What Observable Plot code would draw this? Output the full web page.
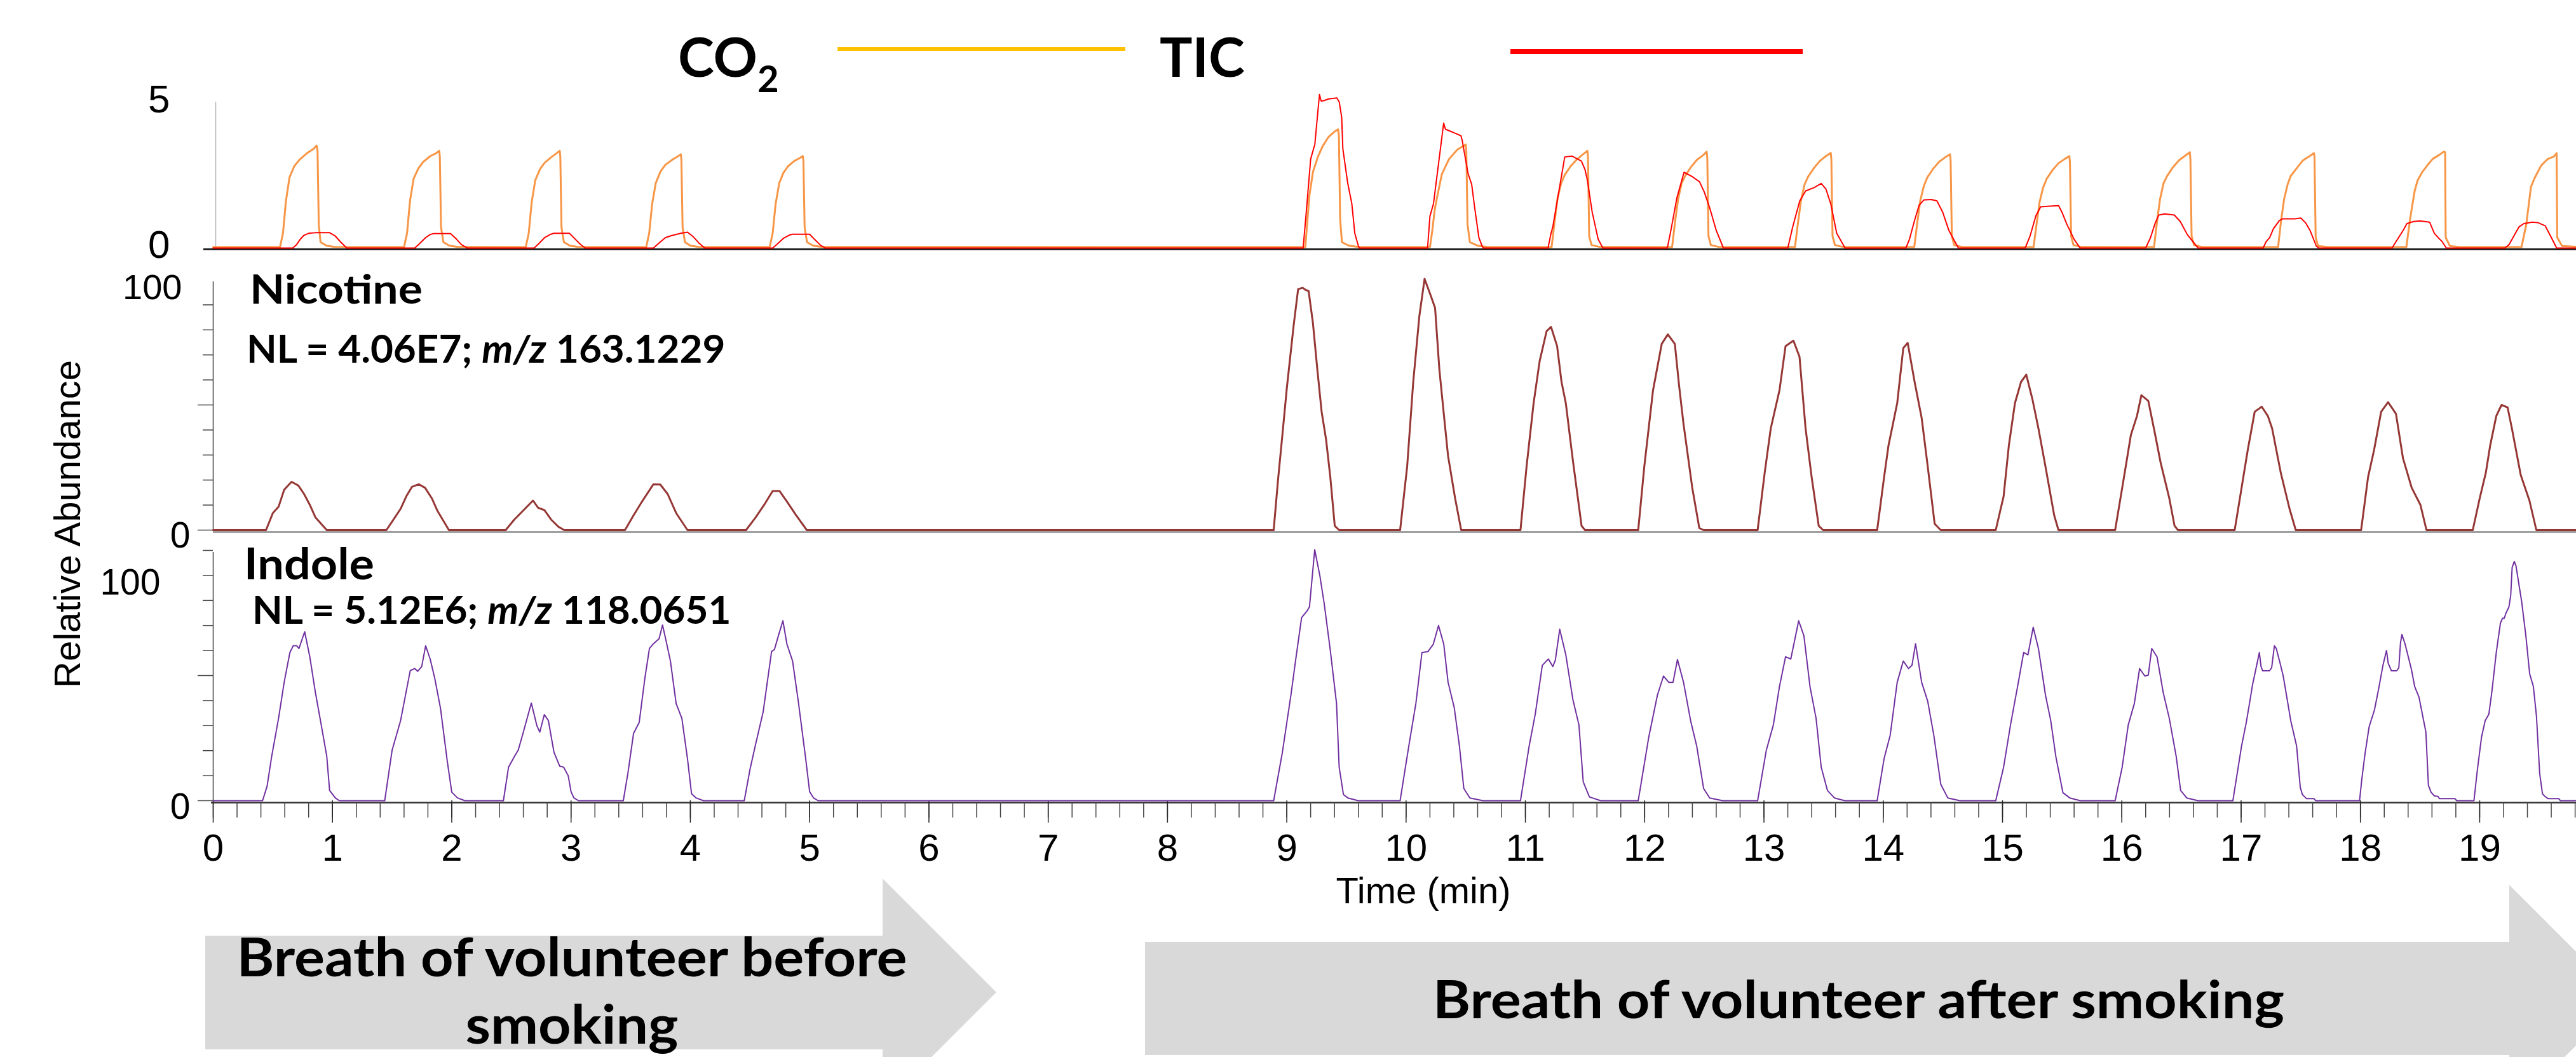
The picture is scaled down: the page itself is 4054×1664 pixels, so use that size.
<!DOCTYPE html>
<html>
<head>
<meta charset="utf-8">
<script src="https://cdn.jsdelivr.net/npm/d3@7"></script>
<script src="https://cdn.jsdelivr.net/npm/@observablehq/plot@0.6"></script>
<style>
html, body { margin: 0; padding: 0; background: #fff; }
#page { position: relative; width: 4054px; height: 1664px; overflow: hidden; background: #fff; }
#page > svg { position: absolute; left: 0; top: 0; }
</style>
</head>
<body>
<div id="page"></div>
<script>
const W = 4054, H = 1664;
const timeDomain = [0, 19.81];

// ---- CO2 trace (panel 1, 0-5 scale) ----
const co2Trace = [
  [0,0.03],
  [0.56,0.03],[0.585,0.5],[0.61,1.6],[0.64,2.4],[0.68,2.78],[0.72,2.98],[0.78,3.2],[0.84,3.36],[0.867,3.48],[0.875,3.3],[0.885,0.8],[0.90,0.2],[0.95,0.08],[1.02,0.04],
  [1.60,0.03],[1.625,0.5],[1.65,1.6],[1.68,2.35],[1.72,2.7],[1.76,2.92],[1.82,3.12],[1.87,3.22],[1.895,3.30],[1.90,3.1],[1.91,0.7],[1.93,0.2],[1.98,0.08],[2.05,0.04],
  [2.62,0.03],[2.645,0.5],[2.67,1.55],[2.70,2.3],[2.74,2.68],[2.78,2.9],[2.84,3.1],[2.88,3.22],[2.905,3.30],[2.91,3.1],[2.92,0.7],[2.94,0.2],[2.99,0.08],[3.06,0.04],
  [3.63,0.03],[3.655,0.5],[3.68,1.5],[3.71,2.2],[3.75,2.6],[3.79,2.82],[3.85,3.0],[3.89,3.1],[3.92,3.18],[3.925,3.0],[3.935,0.7],[3.955,0.2],[4.0,0.08],[4.07,0.04],
  [4.665,0.03],[4.69,0.5],[4.715,1.5],[4.745,2.2],[4.78,2.55],[4.82,2.78],[4.87,2.95],[4.915,3.05],[4.943,3.12],[4.948,2.95],[4.958,0.7],[4.978,0.2],[5.03,0.08],[5.1,0.04],
  [9.155,0.03],[9.17,0.8],[9.19,1.8],[9.22,2.59],[9.26,3.09],[9.30,3.45],[9.35,3.77],[9.40,3.95],[9.43,4.03],[9.437,3.8],[9.447,1.0],[9.462,0.2],[9.52,0.08],[9.6,0.04],
  [10.20,0.03],[10.22,0.6],[10.24,1.3],[10.256,1.65],[10.30,2.51],[10.36,3.02],[10.43,3.34],[10.50,3.51],[10.505,3.3],[10.515,0.8],[10.535,0.2],[10.6,0.08],[10.68,0.04],
  [11.22,0.03],[11.245,0.9],[11.27,1.7],[11.30,2.2],[11.33,2.48],[11.38,2.78],[11.43,3.0],[11.48,3.17],[11.52,3.30],[11.525,3.1],[11.535,0.4],[11.555,0.1],[11.62,0.04],
  [12.23,0.03],[12.255,0.9],[12.28,1.65],[12.31,2.2],[12.34,2.45],[12.39,2.76],[12.44,3.0],[12.49,3.15],[12.52,3.27],[12.525,3.05],[12.535,0.4],[12.555,0.1],[12.62,0.04],
  [13.26,0.03],[13.285,0.85],[13.31,1.6],[13.34,2.15],[13.37,2.42],[13.42,2.72],[13.47,2.96],[13.52,3.12],[13.56,3.23],[13.565,3.0],[13.575,0.4],[13.595,0.1],[13.66,0.04],
  [14.26,0.03],[14.285,0.85],[14.31,1.6],[14.34,2.1],[14.37,2.4],[14.42,2.7],[14.47,2.93],[14.52,3.08],[14.56,3.18],[14.565,2.95],[14.575,0.4],[14.595,0.1],[14.66,0.04],
  [15.26,0.03],[15.285,0.8],[15.31,1.55],[15.34,2.05],[15.37,2.35],[15.42,2.65],[15.47,2.88],[15.52,3.02],[15.56,3.12],[15.565,2.9],[15.575,0.4],[15.595,0.1],[15.66,0.04],
  [16.27,0.03],[16.295,0.9],[16.32,1.65],[16.35,2.2],[16.38,2.45],[16.43,2.75],[16.48,2.98],[16.53,3.13],[16.57,3.25],[16.575,3.0],[16.585,0.4],[16.605,0.1],[16.67,0.04],
  [17.31,0.03],[17.335,0.93],[17.36,1.65],[17.39,2.16],[17.415,2.44],[17.47,2.73],[17.52,2.98],[17.575,3.12],[17.61,3.22],[17.615,3.1],[17.625,0.36],[17.645,0.07],[17.72,0.04],
  [18.385,0.03],[18.42,1.08],[18.455,1.94],[18.48,2.30],[18.52,2.59],[18.56,2.80],[18.605,3.02],[18.66,3.16],[18.70,3.27],[18.71,3.25],[18.715,0.36],[18.75,0.07],[18.82,0.04],
  [19.35,0.03],[19.39,0.79],[19.43,2.08],[19.46,2.37],[19.515,2.80],[19.57,3.02],[19.62,3.10],[19.645,3.22],[19.65,0.36],[19.69,0.07],[19.81,0.04]
];

// ---- TIC trace (panel 1) ----
const ticTrace = [
  [0,0],
  [0.667,0],[0.70,0.12],[0.73,0.3],[0.76,0.43],[0.80,0.5],[0.857,0.52],[0.976,0.52],[1.02,0.42],[1.07,0.2],[1.12,0],
  [1.69,0],[1.73,0.15],[1.78,0.35],[1.82,0.46],[1.848,0.49],[1.99,0.49],[2.04,0.3],[2.08,0.12],[2.13,0],
  [2.69,0],[2.73,0.15],[2.78,0.36],[2.83,0.47],[2.857,0.50],[2.986,0.50],[3.03,0.32],[3.08,0.12],[3.12,0],
  [3.69,0],[3.74,0.18],[3.79,0.35],[3.84,0.42],[3.92,0.5],[3.976,0.54],[4.02,0.4],[4.07,0.18],[4.12,0],
  [4.69,0],[4.73,0.14],[4.78,0.33],[4.83,0.44],[4.857,0.47],[5.0,0.47],[5.04,0.3],[5.09,0.1],[5.13,0],
  [9.137,0],[9.165,1.3],[9.20,3.02],[9.235,3.52],[9.274,5.21],[9.288,4.99],[9.31,5.0],[9.35,5.06],[9.42,5.09],[9.44,4.95],[9.46,4.44],[9.47,3.37],[9.51,2.22],[9.545,1.51],[9.57,0.5],[9.60,0.07],[9.61,0],
  [10.18,0],[10.20,1.08],[10.23,1.51],[10.315,4.24],[10.33,4.03],[10.38,3.95],[10.46,3.81],[10.47,3.66],[10.52,2.52],[10.55,2.16],[10.575,1.37],[10.61,0.36],[10.64,0.04],[10.65,0],
  [11.19,0],[11.215,0.5],[11.23,0.72],[11.33,3.09],[11.39,3.12],[11.47,2.95],[11.50,2.66],[11.52,2.3],[11.56,1.22],[11.61,0.3],[11.65,0],
  [12.19,0],[12.22,0.6],[12.27,1.7],[12.33,2.57],[12.40,2.42],[12.46,2.25],[12.50,1.9],[12.55,1.3],[12.60,0.6],[12.66,0],
  [13.20,0],[13.24,0.7],[13.30,1.6],[13.35,1.94],[13.42,2.05],[13.48,2.19],[13.52,2.0],[13.56,1.5],[13.61,0.5],[13.68,0],
  [14.19,0],[14.22,0.3],[14.26,0.9],[14.30,1.45],[14.34,1.63],[14.40,1.65],[14.45,1.6],[14.50,1.2],[14.55,0.6],[14.63,0],
  [15.19,0],[15.23,0.4],[15.28,1.1],[15.32,1.40],[15.40,1.42],[15.47,1.44],[15.50,1.2],[15.54,0.8],[15.60,0.3],[15.65,0],
  [16.20,0],[16.24,0.35],[16.28,0.85],[16.31,1.12],[16.36,1.16],[16.44,1.12],[16.49,0.9],[16.55,0.45],[16.64,0],
  [17.185,0],[17.21,0.22],[17.24,0.36],[17.27,0.65],[17.32,0.93],[17.345,0.99],[17.45,0.99],[17.50,1.02],[17.54,0.86],[17.58,0.58],[17.63,0.07],[17.65,0],
  [18.265,0],[18.31,0.29],[18.36,0.61],[18.39,0.83],[18.445,0.90],[18.50,0.92],[18.58,0.88],[18.62,0.50],[18.66,0.32],[18.685,0.22],[18.72,0],
  [19.21,0],[19.245,0.11],[19.28,0.36],[19.33,0.72],[19.37,0.83],[19.44,0.88],[19.49,0.86],[19.55,0.75],[19.60,0.36],[19.645,0],[19.81,0]
];

// ---- Nicotine (panel 2, relative abundance) ----
const nicotineTrace = [
  [0,0],
  [0.443,0],[0.50,6.8],[0.548,9.3],[0.595,16.1],[0.657,19.3],[0.714,17.8],[0.762,14.4],[0.81,10.1],[0.857,5.1],[0.952,0],
  [1.452,0],[1.524,5.1],[1.571,8.5],[1.619,13.5],[1.667,17.3],[1.724,18.3],[1.776,16.9],[1.833,12.7],[1.881,7.6],[1.976,0],
  [2.452,0],[2.524,4.2],[2.595,7.6],[2.681,11.8],[2.724,8.9],[2.776,8.0],[2.833,4.2],[2.895,1.3],[2.943,0],
  [3.452,0],[3.524,5.9],[3.595,11.4],[3.690,18.3],[3.748,18.2],[3.810,14.4],[3.881,6.8],[3.976,0],
  [4.467,0],[4.548,5.1],[4.619,10.1],[4.690,15.6],[4.748,15.6],[4.810,11.4],[4.881,6.3],[4.976,0],
  [8.890,0],[8.927,20.3],[8.963,38.0],[9.0,56.6],[9.058,82.0],[9.095,96.3],[9.132,96.8],[9.161,95.9],[9.183,95.5],[9.219,82.8],[9.256,64.2],[9.292,47.3],[9.329,36.3],[9.365,21.1],[9.402,1.7],[9.439,0],
  [9.950,0],[10.009,25.4],[10.060,59.2],[10.111,85.4],[10.155,100.4],[10.206,93.8],[10.243,88.8],[10.279,64.2],[10.316,46.5],[10.352,29.6],[10.411,12.7],[10.462,0],
  [10.959,0],[11.010,25.4],[11.069,50.7],[11.120,67.6],[11.178,79.5],[11.215,81.2],[11.266,73.5],[11.303,59.2],[11.339,50.7],[11.398,27.9],[11.471,1.7],[11.500,0],
  [11.946,0],[11.997,25.4],[12.070,55.8],[12.143,74.4],[12.194,78.2],[12.253,74.4],[12.289,57.5],[12.326,42.3],[12.399,16.9],[12.458,0.8],[12.494,0],
  [12.947,0],[13.006,22.8],[13.057,40.6],[13.130,55.8],[13.181,73.5],[13.247,75.7],[13.298,69.3],[13.349,40.6],[13.400,21.1],[13.459,1.7],[13.496,0],
  [13.949,0],[14.007,21.1],[14.044,33.8],[14.117,50.7],[14.168,72.7],[14.205,74.8],[14.263,59.2],[14.322,44.8],[14.373,25.4],[14.431,2.5],[14.482,0],
  [14.943,0],[15.009,13.5],[15.053,33.8],[15.104,50.7],[15.155,59.2],[15.199,62.1],[15.250,52.4],[15.301,40.6],[15.360,25.4],[15.433,5.9],[15.469,0],
  [15.944,0],[16.018,21.1],[16.076,38.0],[16.127,45.6],[16.164,53.9],[16.222,51.6],[16.273,39.7],[16.325,27.0],[16.398,12.7],[16.442,1.7],[16.471,0],
  [16.946,0],[17.004,16.9],[17.056,32.1],[17.114,47.3],[17.173,49.3],[17.224,45.6],[17.260,40.6],[17.333,22.8],[17.406,8.5],[17.458,0],
  [18.006,0],[18.064,21.1],[18.115,32.1],[18.174,47.3],[18.232,51.1],[18.298,46.5],[18.357,28.7],[18.430,16.9],[18.503,10.1],[18.554,0],
  [18.942,0],[19.0,12.7],[19.051,22.8],[19.088,33.8],[19.139,45.6],[19.183,50.0],[19.234,49.0],[19.270,40.6],[19.344,22.0],[19.417,11.8],[19.475,0],
  [19.81,0]
];

// ---- Indole (panel 3, relative abundance) ----
const indoleTrace = [
  [0,0],
  [0.414,0],[0.452,5.8],[0.490,17.6],[0.548,32.9],[0.595,47.3],[0.643,59.2],[0.671,61.9],[0.700,61.9],[0.719,60.8],[0.767,67.5],[0.810,57.5],[0.857,43.2],[0.905,30.5],[0.952,17.8],[0.976,4.1],[1.024,1.1],[1.057,0],
  [1.438,0],[1.500,20.2],[1.571,32.0],[1.652,52.0],[1.690,52.8],[1.714,51.7],[1.748,53.6],[1.781,61.9],[1.819,56.6],[1.857,49.0],[1.905,37.1],[1.962,15.9],[2.0,3.4],[2.048,1.1],[2.110,0],
  [2.433,0],[2.476,13.4],[2.524,17.6],[2.557,20.2],[2.595,26.5],[2.667,39.0],[2.714,29.9],[2.738,27.4],[2.776,34.4],[2.810,32.0],[2.857,19.3],[2.905,13.8],[2.938,13.4],[2.976,10.0],[3.0,3.6],[3.024,1.1],[3.062,0],
  [3.438,0],[3.476,10.8],[3.524,26.9],[3.571,31.2],[3.619,49.0],[3.657,60.8],[3.690,62.7],[3.738,64.7],[3.767,70.2],[3.795,64.2],[3.833,55.8],[3.881,38.8],[3.929,32.9],[3.976,16.8],[4.010,2.8],[4.048,1.1],[4.110,0],
  [4.452,0],[4.500,12.5],[4.548,22.7],[4.610,35.4],[4.681,59.6],[4.705,60.4],[4.738,65.9],[4.776,71.9],[4.810,62.5],[4.857,55.8],[4.905,39.7],[4.967,16.8],[5.0,3.6],[5.033,1.1],[5.071,0],
  [8.890,0],[8.963,19.3],[9.037,43.0],[9.073,55.8],[9.124,73.1],[9.168,75.7],[9.190,77.4],[9.234,100.3],[9.278,89.7],[9.314,78.6],[9.365,60.0],[9.417,38.8],[9.439,13.4],[9.475,2.4],[9.512,1.1],[9.599,0],
  [9.950,0],[10.023,21.9],[10.082,38.8],[10.133,59.2],[10.184,59.6],[10.228,62.5],[10.272,70.0],[10.316,62.5],[10.352,47.3],[10.404,37.1],[10.447,21.9],[10.484,4.9],[10.535,1.1],[10.645,0],
  [10.959,0],[11.032,21.9],[11.083,34.6],[11.142,54.1],[11.193,56.6],[11.230,53.6],[11.251,56.1],[11.288,68.5],[11.339,58.3],[11.398,40.5],[11.449,30.3],[11.485,7.5],[11.537,1.5],[11.632,0],
  [11.946,0],[12.034,25.3],[12.107,42.2],[12.158,49.8],[12.202,47.3],[12.238,47.3],[12.275,56.4],[12.326,47.3],[12.385,32.0],[12.436,21.9],[12.494,4.9],[12.545,1.1],[12.655,0],
  [12.947,0],[13.020,20.2],[13.079,30.3],[13.130,45.6],[13.181,57.5],[13.225,56.6],[13.291,71.9],[13.335,65.9],[13.386,45.6],[13.437,32.9],[13.480,13.4],[13.532,4.1],[13.591,1.1],[13.678,0],
  [13.949,0],[14.007,16.8],[14.058,26.1],[14.117,47.3],[14.168,55.8],[14.212,52.8],[14.241,54.1],[14.271,62.7],[14.322,47.3],[14.373,39.7],[14.424,26.1],[14.482,6.6],[14.541,1.1],[14.643,0],
  [14.943,0],[15.009,13.4],[15.067,30.3],[15.126,45.6],[15.177,59.2],[15.213,58.3],[15.257,69.3],[15.301,60.8],[15.360,42.2],[15.404,32.0],[15.447,17.6],[15.506,3.2],[15.564,1.1],[15.652,0],
  [15.944,0],[16.003,13.4],[16.054,30.3],[16.105,38.8],[16.149,52.8],[16.193,49.8],[16.222,50.2],[16.251,60.8],[16.295,57.5],[16.347,43.2],[16.398,32.9],[16.456,17.6],[16.493,4.1],[16.544,1.1],[16.639,0],
  [16.931,0],[17.004,21.9],[17.043,31.2],[17.070,38.8],[17.096,46.4],[17.123,52.4],[17.153,59.2],[17.167,53.6],[17.181,51.9],[17.238,51.9],[17.256,53.1],[17.279,61.9],[17.295,60.8],[17.327,54.9],[17.353,49.8],[17.389,39.7],[17.416,32.0],[17.465,21.9],[17.496,5.3],[17.514,2.4],[17.549,0.8],[17.611,0.8],[17.626,0],
  [17.993,0],[18.011,8.3],[18.038,18.5],[18.073,29.5],[18.118,36.3],[18.153,44.7],[18.189,54.1],[18.219,60.0],[18.233,54.9],[18.260,51.9],[18.304,51.9],[18.322,53.1],[18.336,63.0],[18.348,66.4],[18.375,62.5],[18.428,52.4],[18.455,45.6],[18.491,41.4],[18.549,27.4],[18.570,6.2],[18.592,3.4],[18.620,1.9],[18.650,1.7],[18.663,0.8],[18.793,0.8],[18.807,0],
  [18.952,0],[18.979,11.7],[19.015,25.3],[19.046,32.0],[19.077,34.6],[19.103,43.9],[19.139,59.2],[19.174,71.0],[19.192,72.9],[19.206,72.9],[19.219,74.8],[19.245,77.4],[19.260,82.0],[19.272,93.1],[19.290,95.6],[19.304,93.9],[19.352,79.5],[19.387,65.9],[19.419,50.7],[19.450,45.6],[19.476,33.7],[19.503,10.8],[19.526,2.8],[19.547,1.7],[19.574,0.8],[19.663,0.8],[19.677,0],
  [19.81,0]
];

// ---- axis ticks and labels ----
const timeTicks = d3.range(0, 20);               // 0 … 19 min
const timeMinorTicks = d3.range(0, 100).map(i => i / 5);
const co2Ticks = [0, 5];
const abundanceMinor = [10, 20, 30, 40, 60, 70, 80, 90];
const abundanceMajor = [0, 50];

const legendItems = [
  {name: "CO", sub: "2", color: "#FFC000"},
  {name: "TIC", sub: "", color: "#FF0000"}
];
const panelLabels = [
  {compound: "Nicotine", nl: "4.06E7", mz: "163.1229"},
  {compound: "Indole", nl: "5.12E6", mz: "118.0651"}
];
const phaseLabels = ["Breath of volunteer before", "smoking", "Breath of volunteer after smoking"];

const rows = a => a.map(([t, v]) => ({t, v}));
const FONT_AXIS = "'Liberation Sans', Arial, Helvetica, sans-serif";
const FONT_BOLD = "Lato, 'Open Sans', sans-serif";

const page = d3.select("#page");

// ---------- decoration layer (arrows, legend, annotations) ----------
const deco = page.append("svg").attr("width", W).attr("height", H)
  .style("font-family", FONT_BOLD).style("white-space", "pre");

deco.append("polygon").attr("fill", "#D9D9D9")
  .attr("points", "323,1473 1389,1473 1389,1383 1568,1562 1389,1741 1389,1652 323,1652");
deco.append("polygon").attr("fill", "#D9D9D9")
  .attr("points", "1802,1483 3949,1483 3949,1393 4128,1572 3949,1751 3949,1661 1802,1661");

function boldText(x, y, str, size, len, anchor = "start") {
  const t = deco.append("text").attr("x", x).attr("y", y)
    .attr("font-size", size).attr("font-weight", 700).attr("text-anchor", anchor)
    .attr("fill", "#000").text(str);
  if (len) t.attr("textLength", len).attr("lengthAdjust", "spacingAndGlyphs");
  return t;
}
boldText(900, 1537, phaseLabels[0], 84, 1055, "middle");
boldText(900, 1643, phaseLabels[1], 84, 335, "middle");
boldText(2925, 1603, phaseLabels[2], 82, 1340, "middle");

// legend
const co2 = deco.append("text").attr("x", 1067).attr("y", 121)
  .attr("font-size", 86).attr("font-weight", 700);
co2.append("tspan").text(legendItems[0].name);
co2.append("tspan").attr("font-size", 58).attr("dy", 24).text(legendItems[0].sub);
deco.append("rect").attr("x", 1318).attr("y", 74).attr("width", 453).attr("height", 6).attr("fill", legendItems[0].color);
boldText(1825, 121, legendItems[1].name, 86);
deco.append("rect").attr("x", 2377).attr("y", 77).attr("width", 460).attr("height", 8).attr("fill", legendItems[1].color);

// panel annotations
function nlText(x, y, lab) {
  const t = deco.append("text").attr("x", x).attr("y", y)
    .attr("font-size", 62).attr("font-weight", 700);
  t.append("tspan").text(`NL = ${lab.nl}; `);
  t.append("tspan").attr("font-style", "italic").text("m/z");
  t.append("tspan").text(` ${lab.mz}`);
}
boldText(393, 478, panelLabels[0].compound, 64, 272);
nlText(388, 571, panelLabels[0]);
boldText(384, 912, panelLabels[1].compound, 68, 205);
nlText(397, 982, panelLabels[1]);

// axis titles
deco.append("text").attr("transform", "translate(126,825) rotate(-90)")
  .attr("text-anchor", "middle").attr("font-family", FONT_AXIS).attr("font-size", 58)
  .text("Relative Abundance");
deco.append("text").attr("x", 2240).attr("y", 1422)
  .attr("text-anchor", "middle").attr("font-family", FONT_AXIS).attr("font-size", 58)
  .text("Time (min)");

// ---------- chart panels ----------
function panel(top, bottom, yDomain, marks, xAxis = null) {
  const opts = {
    width: W, height: H,
    marginLeft: 335, marginRight: 0, marginTop: top, marginBottom: H - bottom,
    x: {domain: timeDomain, label: null},
    y: {domain: yDomain, label: null},
    style: {background: "transparent", fontFamily: FONT_AXIS, overflow: "visible"},
    marks
  };
  if (xAxis === null) opts.x.axis = null;
  return Plot.plot(opts);
}

const p1 = panel(158, 390, [0, 5], [
  Plot.ruleX([0], {y1: 0, y2: 5, stroke: "#b5b5b5", strokeWidth: 1.5, dx: 4, insetBottom: -2}),
  Plot.ruleY([0], {stroke: "#222", strokeWidth: 3, dy: 2, insetLeft: -15}),
  Plot.line(rows(co2Trace), {x: "t", y: "v", stroke: "#F79646", strokeWidth: 3}),
  Plot.line(rows(ticTrace), {x: "t", y: "v", stroke: "#FF0000", strokeWidth: 2}),
  Plot.axisY([co2Ticks[1]], {tickSize: 0, tickPadding: 68, fontSize: 62, dy: -1, label: null}),
  Plot.axisY([co2Ticks[0]], {tickSize: 0, tickPadding: 68, fontSize: 62, dy: -4, label: null})
]);

const p2 = panel(440, 834, [0, 100], [
  Plot.ruleX([0], {y1: 0, y2: 100, stroke: "#444", strokeWidth: 1.5, insetBottom: -3}),
  Plot.ruleY([0], {stroke: "#888", strokeWidth: 2.5, dy: 3}),
  Plot.axisY(abundanceMinor, {tickSize: 16, fill: "none", stroke: "#444", strokeWidth: 1.5, label: null}),
  Plot.axisY(abundanceMajor, {tickSize: 24, fill: "none", stroke: "#444", strokeWidth: 1.5, label: null}),
  Plot.axisY([100], {tickSize: 0, tickPadding: 49, fontSize: 56, dy: 13, label: null}),
  Plot.axisY([0], {tickSize: 0, tickPadding: 36, fontSize: 57, dy: 9, label: null}),
  Plot.line(rows(nicotineTrace), {x: "t", y: "v", stroke: "#953735", strokeWidth: 3})
]);

const p3 = panel(866, 1260, [0, 100], [
  Plot.ruleX([0], {y1: 0, y2: 100, stroke: "#444", strokeWidth: 1.5, insetBottom: -3}),
  Plot.ruleY([0], {stroke: "#333", strokeWidth: 2.5, dy: 3, insetLeft: -3}),
  Plot.axisY([...abundanceMinor, 100], {tickSize: 16, fill: "none", stroke: "#444", strokeWidth: 1.5, label: null}),
  Plot.axisY(abundanceMajor, {tickSize: 24, fill: "none", stroke: "#444", strokeWidth: 1.5, label: null}),
  Plot.axisY([100], {tickSize: 0, tickPadding: 83, fontSize: 57, dy: 51, label: null}),
  Plot.axisY([0], {tickSize: 0, tickPadding: 36, fontSize: 57, dy: 10, label: null}),
  Plot.axisX(timeMinorTicks, {tickSize: 24, fill: "none", stroke: "#444", strokeWidth: 1.5, label: null, dy: 3}),
  Plot.axisX(timeTicks, {tickSize: 35, tickPadding: 17, fontSize: 60, stroke: "#222", strokeWidth: 1.5, label: null, tickFormat: d3.format("d")}),
  Plot.line(rows(indoleTrace), {x: "t", y: "v", stroke: "#7030A0", strokeWidth: 2})
], true);

for (const p of [p1, p2, p3]) {
  p.style.position = "absolute";
  p.style.left = "0px";
  p.style.top = "0px";
  page.node().appendChild(p);
}
</script>
</body>
</html>
